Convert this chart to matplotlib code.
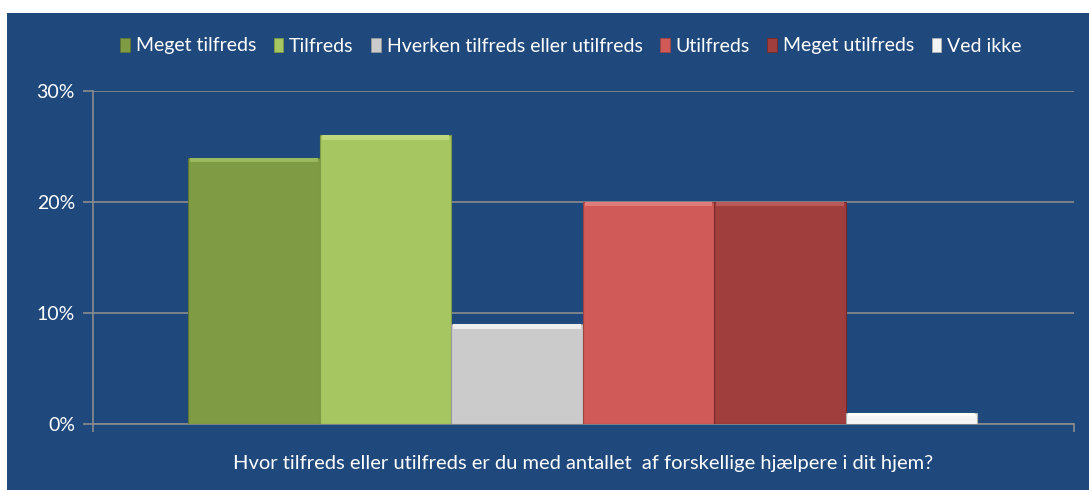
import matplotlib
matplotlib.use("Agg")
import matplotlib.pyplot as plt
from matplotlib.patches import Rectangle
import numpy as np

categories = ["Meget tilfreds", "Tilfreds", "Hverken tilfreds eller utilfreds",
              "Utilfreds", "Meget utilfreds", "Ved ikke"]
values = [24, 26, 9, 20, 20, 1]
colors = ["#7F9C45", "#A5C660", "#CBCBCB", "#CF5A58", "#A03D3D", "#F4F4F4"]
highlights = ["#9AB85E", "#BDD87C", "#EDEDED", "#E07C7A", "#B85A5A", "#FFFFFF"]
edges = ["#5E7530", "#7E9A45", "#9A9A9A", "#A04442", "#7A2A2A", "#B0B0B0"]
xlabel = "Hvor tilfreds eller utilfreds er du med antallet  af forskellige hjælpere i dit hjem?"
yticks = [0, 10, 20, 30]
yticklabels = ["0%", "10%", "20%", "30%"]

BG = "#1F497D"
GRID = "#8C8C8C"
plt.rcParams['font.family'] = ['Lato', 'DejaVu Sans']

fig = plt.figure(figsize=(10.89, 4.90), dpi=100)
fig.patch.set_facecolor("white")
fig.patches.append(Rectangle((7/1089, 0), 1 - 7/1089, 1 - 13/490, transform=fig.transFigure,
                             facecolor=BG, edgecolor="none", zorder=-10))

ax = fig.add_axes([93/1089, 1 - 424/490, (1074 - 93)/1089, (424 - 91)/490])
ax.set_facecolor("none")

x = np.arange(len(values))
for i, (v, c, h, e) in enumerate(zip(values, colors, highlights, edges)):
    ax.bar(x[i], v, width=1.0, color=c, edgecolor=e, linewidth=0.8, zorder=3, label=categories[i])
    # subtle bevel highlight on top
    hh = min(0.4, v * 0.3)
    ax.bar(x[i], hh, bottom=v - hh, width=0.97, color=h, edgecolor="none", zorder=4)

ax.set_xlim(-1.225, 6.235)
ax.set_ylim(0, 30)
ax.set_yticks(yticks)
ax.set_yticklabels(yticklabels, color="white", fontsize=14)
ax.yaxis.grid(True, color=GRID, linewidth=1.2, zorder=0)
ax.set_axisbelow(True)
ax.tick_params(axis="y", length=7, color=GRID, width=1.2, pad=6, direction="out")
ax.set_xticks([-1.225, 6.235])
ax.set_xticklabels(["", ""])
ax.tick_params(axis="x", length=6, color=GRID, width=1.2, direction="out")
for s in ["top", "right"]:
    ax.spines[s].set_visible(False)
ax.spines["left"].set_color(GRID)
ax.spines["left"].set_linewidth(1.2)
ax.spines["bottom"].set_color(GRID)
ax.spines["bottom"].set_linewidth(1.2)

fig.text((93 + 1074) / 2 / 1089, 1 - 463/490, xlabel, ha="center", va="center",
         color="white", fontsize=14.5)

handles = [Rectangle((0, 0), 1, 1, facecolor=c, edgecolor=e, linewidth=0.6)
           for c, e in zip(colors, edges)]
leg = fig.legend(handles, categories, loc="center", bbox_to_anchor=(571/1089, 1 - 46/490),
                 ncol=6, frameon=False, fontsize=14, handlelength=0.5, handleheight=0.75,
                 handletextpad=0.3, columnspacing=0.9, labelcolor="white")

fig.savefig("out.png", dpi=100, facecolor=fig.get_facecolor())
